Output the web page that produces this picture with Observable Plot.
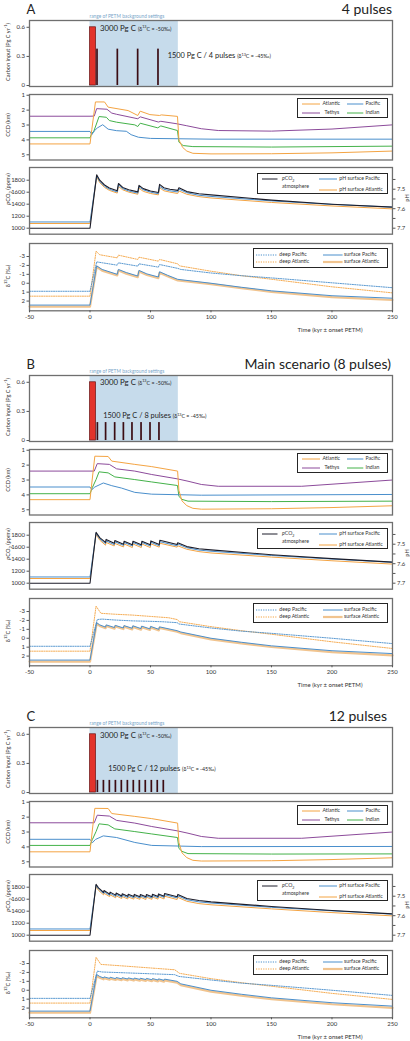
<!DOCTYPE html>
<html><head><meta charset="utf-8">
<script src="https://cdn.jsdelivr.net/npm/d3@7"></script>
<script src="https://cdn.jsdelivr.net/npm/@observablehq/plot@0.6"></script>
<style>
html,body{margin:0;padding:0;background:#fff;}
#page{position:relative;width:410px;height:1041px;overflow:hidden;font-family:Lato,"Open Sans",sans-serif;color:#333;}
#page div.t{position:absolute;white-space:nowrap;line-height:1;}
sup,sub{font-size:70%;line-height:0;}
</style></head>
<body><div id="page"></div>
<script>
// ---------------- DATA ----------------
const letters = ["A", "B", "C"];
const titles = ["4 pulses", "Main scenario (8 pulses)", "12 pulses"];
const pulseLabels = ["1500 Pg C / 4 pulses", "1500 Pg C / 8 pulses", "1500 Pg C / 12 pulses"];
const xTicks = [-50, 0, 50, 100, 150, 200, 250];
const carbonTicks = [0, 0.3, 0.6];
const ccdTicks = [1, 2, 3, 4, 5];
const co2Ticks = [1000, 1200, 1400, 1600, 1800];
const phTicks = [7.45, 7.5, 7.55, 7.6, 7.65, 7.7];
const phTickLabels = ["", "7.5", "", "7.6", "", "7.7"];
const d13Ticks = [-3, -2, -1, 0, 1, 2];

// carbon input
const bgRange = [0, 73];
const mainPulse = [0, 5];
const mainRate = 0.6;
const pulseDur = 1.4;
const pulseStartsA = [5.5, 22.3, 39.1, 55.9];
const pulseStartsB = [5.8, 12.6, 20.1, 27.3, 34.4, 41.9, 49.3, 56.7];
const pulseStartsC = [5.8, 10.8, 15.7, 20.7, 25.6, 30.6, 35.5, 40.5, 45.4, 50.4, 55.3, 60.3];
const pulseRates = [0.375, 0.185, 0.125];

// CCD (km)
const ccdA_atl = [[-50,4.27],[0,4.27],[1.5,3.3],[4.5,1.45],[12,1.45],[15,1.8],[31.5,2.03],[39.5,2.36],[41.5,2.07],[49.5,2.3],[57.5,2.36],[59,2.32],[72.3,2.42],[73.5,4.0],[76.5,4.5],[80,4.75],[85,4.9],[100,4.94],[150,4.93],[200,4.87],[250,4.75]];
const ccdA_teth = [[-50,2.41],[0,2.41],[3.5,2.4],[5.5,1.9],[14,1.94],[18,2.2],[22,2.28],[39.5,2.58],[41.5,2.45],[56.5,2.8],[58.5,2.75],[72,2.92],[80,3.05],[92,3.25],[106,3.37],[150,3.41],[200,3.27],[250,2.99]];
const ccdA_ind = [[-50,3.86],[0,3.86],[1.5,3.55],[3,3.45],[5,3.0],[7.5,2.43],[13.5,2.48],[16,2.7],[22,2.81],[37,2.99],[39.5,3.1],[41.5,2.88],[56,3.19],[58.5,3.06],[72.3,3.37],[73.5,4.15],[77,4.38],[85,4.45],[150,4.48],[250,4.42]];
const ccdA_pac = [[-50,3.43],[0,3.43],[1.5,3.65],[3.5,3.4],[6,3.2],[10.5,2.98],[15,3.28],[22,3.38],[30,3.42],[34,3.65],[40,3.82],[50,3.9],[100,3.95],[250,3.95]];

const ccdB_atl = [[-50,4.32],[0,4.32],[1.5,3.2],[4,1.4],[15,1.42],[18,1.73],[37,1.95],[51,2.1],[72.4,2.4],[73.5,3.7],[76,4.4],[80,4.72],[85,4.9],[92,4.96],[150,4.93],[200,4.85],[250,4.73]];
const ccdB_teth = [[-50,2.4],[0,2.4],[3.5,2.4],[6,1.9],[16,1.95],[22,2.25],[37,2.4],[51,2.63],[72,2.92],[81,3.08],[92,3.3],[106,3.42],[175,3.42],[250,3.0]];
const ccdB_ind = [[-50,3.92],[0,3.92],[2,3.5],[5,2.97],[7.5,2.45],[15,2.52],[20.5,2.79],[37,2.97],[51,3.13],[72.3,3.37],[73.5,4.1],[76,4.3],[81,4.42],[150,4.45],[250,4.42]];
const ccdB_pac = [[-50,3.47],[0,3.47],[1.5,3.65],[4,3.47],[11,3.2],[18,3.38],[26,3.54],[37,3.83],[51,3.95],[92,4.02],[250,3.97]];

const ccdC_atl = [[-50,4.33],[0,4.33],[1.5,3.2],[4,1.41],[15,1.42],[18,1.76],[37,1.95],[51,2.1],[72.4,2.4],[73.5,3.7],[76,4.4],[80,4.72],[85,4.9],[92,4.95],[150,4.93],[200,4.85],[250,4.73]];
const ccdC_teth = [[-50,2.38],[0,2.38],[3.5,2.38],[6,1.87],[16,1.93],[22,2.22],[37,2.4],[51,2.63],[72,2.92],[81,3.08],[92,3.3],[106,3.42],[175,3.42],[250,3.0]];
const ccdC_ind = [[-50,3.9],[0,3.9],[2,3.5],[5,2.97],[7.5,2.45],[15,2.52],[20.5,2.79],[37,2.97],[51,3.13],[72.3,3.37],[73.5,4.1],[76,4.3],[81,4.45],[150,4.48],[250,4.47]];
const ccdC_pac = [[-50,3.49],[0,3.49],[2,3.72],[4.5,3.5],[11,3.26],[22,3.37],[37,3.7],[51,3.9],[92,3.98],[250,3.97]];

// pCO2 (ppmv) and surface pH
const co2A = [[-50,1000],[0,1000],[5.5,1890],[8,1800],[12,1720],[16,1670],[22.5,1625],[23.5,1745],[27,1680],[32,1640],[39.5,1605],[40.5,1715],[44,1660],[50,1620],[56.5,1595],[57.5,1730],[61,1675],[66,1650],[72.5,1630],[73.5,1675],[80,1610],[90,1575],[100,1555],[150,1468],[200,1400],[250,1352]];
const phPacA = [[-50,7.668],[0,7.668],[5.5,7.431],[8,7.460],[12,7.485],[16,7.500],[22.5,7.514],[23.5,7.478],[27,7.497],[32,7.509],[39.5,7.520],[40.5,7.488],[44,7.503],[50,7.515],[56.5,7.523],[57.5,7.485],[61,7.500],[66,7.508],[72.5,7.514],[73.5,7.500],[80,7.518],[90,7.531],[100,7.537],[150,7.560],[200,7.578],[250,7.592]];
const phAtlA = [[-50,7.676],[0,7.676],[5.5,7.437],[8,7.466],[12,7.491],[16,7.506],[22.5,7.520],[23.5,7.486],[27,7.503],[32,7.515],[39.5,7.526],[40.5,7.495],[44,7.511],[50,7.522],[56.5,7.529],[57.5,7.492],[61,7.508],[66,7.515],[72.5,7.522],[73.5,7.509],[80,7.526],[90,7.538],[100,7.545],[150,7.568],[200,7.586],[250,7.601]];

const co2B = [[-50,1000],[0,1000],[5,1850],[8,1760],[12.8,1680],[13.3,1730],[20,1665],[20.5,1710],[27.7,1650],[28.2,1700],[35,1640],[35.5,1700],[42.4,1640],[42.9,1700],[49.8,1640],[50.3,1705],[57.2,1645],[57.7,1715],[72,1645],[72.5,1675],[80,1610],[90,1575],[100,1555],[150,1475],[200,1410],[250,1352]];
const phPacB = [[-50,7.668],[0,7.668],[5,7.443],[8,7.472],[12.8,7.497],[13.3,7.483],[20,7.502],[20.5,7.488],[27.7,7.506],[28.2,7.491],[35,7.509],[35.5,7.491],[42.4,7.509],[42.9,7.491],[49.8,7.509],[50.3,7.490],[57.2,7.508],[57.7,7.487],[72,7.508],[72.5,7.499],[80,7.518],[90,7.530],[100,7.536],[150,7.558],[200,7.576],[250,7.593]];
const phAtlB = [[-50,7.676],[0,7.676],[5,7.449],[8,7.479],[12.8,7.505],[13.3,7.491],[20,7.509],[20.5,7.496],[27.7,7.514],[28.2,7.499],[35,7.517],[35.5,7.499],[42.4,7.517],[42.9,7.499],[49.8,7.517],[50.3,7.498],[57.2,7.515],[57.7,7.495],[72,7.515],[72.5,7.508],[80,7.526],[90,7.538],[100,7.545],[150,7.566],[200,7.585],[250,7.602]];

const co2C = [[-50,1000],[0,1000],[5,1850],[7,1790],[11.2,1715],[11.6,1745],[16.2,1685],[16.6,1718],[21.2,1668],[21.6,1702],[26.2,1655],[26.6,1690],[31.2,1648],[31.6,1683],[36.2,1645],[36.6,1680],[41.2,1642],[41.6,1678],[46.2,1640],[46.6,1678],[51.2,1642],[51.6,1682],[56.2,1645],[56.6,1688],[61.2,1650],[61.6,1695],[72,1640],[72.6,1680],[80,1612],[90,1578],[100,1556],[150,1478],[200,1412],[250,1355]];
const phPacC = [[-50,7.668],[0,7.668],[5,7.443],[7,7.463],[11.2,7.486],[11.6,7.477],[16.2,7.495],[16.6,7.485],[21.2,7.501],[21.6,7.490],[26.2,7.505],[26.6,7.494],[31.2,7.507],[31.6,7.496],[36.2,7.508],[36.6,7.497],[41.2,7.509],[41.6,7.498],[46.2,7.509],[46.6,7.498],[51.2,7.509],[51.6,7.496],[56.2,7.508],[56.6,7.494],[61.2,7.506],[61.6,7.492],[72,7.509],[72.6,7.498],[80,7.518],[90,7.529],[100,7.535],[150,7.557],[200,7.575],[250,7.592]];
const phAtlC = [[-50,7.676],[0,7.676],[5,7.449],[7,7.470],[11.2,7.493],[11.6,7.485],[16.2,7.502],[16.6,7.493],[21.2,7.508],[21.6,7.498],[26.2,7.512],[26.6,7.502],[31.2,7.514],[31.6,7.504],[36.2,7.515],[36.6,7.505],[41.2,7.516],[41.6,7.505],[46.2,7.517],[46.6,7.505],[51.2,7.516],[51.6,7.504],[56.2,7.515],[56.6,7.502],[61.2,7.514],[61.6,7.500],[72,7.517],[72.6,7.506],[80,7.526],[90,7.538],[100,7.544],[150,7.565],[200,7.584],[250,7.601]];

// pH axis alignment with the pCO2 axis (two reading anchors)
const phAnchor = [7.7, 7.5];
const ppmAnchor = [1000, 1650];

// d13C (permil)
const d13A_deepPac = [[-50,0.9],[0,0.9],[5.5,-2.4],[10,-2.3],[22.5,-2.03],[23.5,-2.29],[39.5,-1.92],[40.5,-2.18],[56.5,-1.81],[57.5,-2.1],[72.5,-1.67],[75,-1.55],[100,-1.15],[125,-0.85],[150,-0.6],[200,-0.05],[250,0.5]];
const d13A_deepAtl = [[-50,1.45],[0,1.45],[5,-3.6],[8,-3.2],[22.5,-2.85],[23.5,-3.15],[39.5,-2.67],[40.5,-2.92],[56.5,-2.48],[57.5,-2.67],[72.5,-2.18],[74,-1.95],[100,-1.35],[125,-0.85],[150,-0.45],[200,0.4],[250,1.08]];
const d13A_surfPac = [[-50,2.45],[0,2.45],[5.5,-1.95],[10,-1.55],[22.5,-1.0],[23.5,-1.55],[30,-1.2],[39.5,-0.81],[40.5,-1.44],[47,-1.05],[56.5,-0.7],[57.5,-1.29],[64,-0.9],[72.5,-0.44],[100,0.0],[125,0.45],[150,0.85],[200,1.4],[250,1.68]];
const d13A_surfAtl = [[-50,2.62],[0,2.62],[5.5,-1.85],[10,-1.42],[22.5,-0.88],[23.5,-1.43],[30,-1.08],[39.5,-0.69],[40.5,-1.32],[47,-0.93],[56.5,-0.58],[57.5,-1.17],[64,-0.78],[72.5,-0.32],[100,0.1],[125,0.55],[150,0.97],[200,1.55],[250,1.88]];

const d13B_deepPac = [[-50,0.9],[0,0.9],[6,-2.1],[10,-2.15],[20,-2.05],[35,-1.95],[50,-1.9],[60,-1.85],[72,-1.75],[73.5,-1.6],[100,-1.15],[125,-0.8],[150,-0.55],[200,0.0],[250,0.6]];
const d13B_deepAtl = [[-50,1.45],[0,1.45],[5,-3.6],[9,-2.8],[20,-2.7],[35,-2.6],[50,-2.45],[65,-2.3],[72,-2.1],[74,-1.85],[100,-1.3],[125,-0.85],[150,-0.45],[200,0.4],[250,1.15]];
const d13B_surfPac = [[-50,2.45],[0,2.45],[5.5,-1.75],[8,-1.5],[12.9,-1.25],[13.4,-1.5],[20.3,-1.2],[20.8,-1.45],[27.6,-1.15],[28.1,-1.42],[34.9,-1.12],[35.4,-1.4],[42.2,-1.08],[42.7,-1.36],[49.6,-1.05],[50.1,-1.33],[56.9,-1.0],[57.4,-1.28],[72,-0.85],[75,-0.7],[100,0.0],[125,0.45],[150,0.85],[200,1.4],[250,1.72]];
const d13B_surfAtl = [[-50,2.62],[0,2.62],[5.5,-1.63],[8,-1.38],[12.9,-1.13],[13.4,-1.38],[20.3,-1.08],[20.8,-1.33],[27.6,-1.03],[28.1,-1.3],[34.9,-1.0],[35.4,-1.28],[42.2,-0.96],[42.7,-1.24],[49.6,-0.93],[50.1,-1.21],[56.9,-0.88],[57.4,-1.16],[72,-0.73],[75,-0.58],[100,0.12],[125,0.57],[150,0.98],[200,1.55],[250,1.93]];

const d13C_deepPac = [[-50,0.91],[0,0.91],[6,-2.14],[10,-2.05],[30,-1.95],[50,-1.85],[70,-1.75],[73.5,-1.55],[100,-1.15],[125,-0.8],[150,-0.55],[200,0.0],[250,0.58]];
const d13C_deepAtl = [[-50,1.44],[0,1.44],[5,-3.7],[9,-2.9],[25,-2.75],[40,-2.6],[55,-2.45],[70,-2.3],[74,-1.9],[100,-1.3],[125,-0.85],[150,-0.45],[200,0.35],[250,1.03]];
const d13C_surfPac = [[-50,2.34],[0,2.34],[5.5,-1.77],[8,-1.55],[11.2,-1.38],[11.6,-1.5],[16.2,-1.33],[16.6,-1.46],[21.2,-1.3],[21.6,-1.43],[26.2,-1.28],[26.6,-1.41],[31.2,-1.26],[31.6,-1.39],[36.2,-1.24],[36.6,-1.37],[41.2,-1.22],[41.6,-1.35],[46.2,-1.2],[46.6,-1.33],[51.2,-1.18],[51.6,-1.31],[56.2,-1.15],[56.6,-1.28],[61.2,-1.12],[61.6,-1.25],[72,-1.0],[75,-0.72],[100,0.0],[125,0.45],[150,0.85],[200,1.4],[250,1.78]];
const d13C_surfAtl = [[-50,2.52],[0,2.52],[5.5,-1.62],[8,-1.4],[11.2,-1.23],[11.6,-1.35],[16.2,-1.18],[16.6,-1.31],[21.2,-1.15],[21.6,-1.28],[26.2,-1.13],[26.6,-1.26],[31.2,-1.11],[31.6,-1.24],[36.2,-1.09],[36.6,-1.22],[41.2,-1.07],[41.6,-1.2],[46.2,-1.05],[46.6,-1.18],[51.2,-1.03],[51.6,-1.16],[56.2,-1.0],[56.6,-1.13],[61.2,-0.97],[61.6,-1.1],[72,-0.85],[75,-0.57],[100,0.15],[125,0.6],[150,1.0],[200,1.57],[250,1.98]];

// ---------------- DRAWING ----------------
const FONT = "Lato, 'Open Sans', sans-serif";
const COL = {atl:"#f4a443", pac:"#4a8fcc", teth:"#8c4b9b", ind:"#44b24a", co2:"#1d1d2a",
  surfAtl:"#f1c48f", bg:"#c6dbeb", red:"#e2332b", pulse:"#3b0c13", frame:"#6f6f6f", txt:"#333"};
const page = document.getElementById("page");
const OFFS = [0, 355, 707];
const pts = a => a.map(([t, v]) => ({t, v}));
const ph2ppm = d3.scaleLinear().domain(phAnchor).range(ppmAnchor);
const minusFmt = d => d < 0 ? "-" + Math.abs(d) : String(d);

function txt(html, x, y, o = {}) {
  const d = document.createElement("div");
  d.className = "t";
  d.innerHTML = html;
  const size = o.size || 6;
  const ax = o.anchor === "end" ? "-100%" : o.anchor === "middle" ? "-50%" : "0";
  let tr = `translate(${ax},-50%)`;
  if (o.rotate) tr = `translate(-50%,-50%) rotate(${o.rotate}deg)`;
  d.style.cssText = `left:${x}px;top:${y}px;font-size:${size}px;color:${o.color || COL.txt};transform:${tr};` + (o.css || "");
  page.appendChild(d);
}
// legend swatch lines drawn as small inline SVGs
function hline(x1, x2, y, color, w = 1, dash = null) {
  const ns = "http://www.w3.org/2000/svg";
  const s = document.createElementNS(ns, "svg");
  s.setAttribute("width", x2 - x1); s.setAttribute("height", 4);
  s.style.cssText = `position:absolute;left:${x1}px;top:${y - 2}px;overflow:visible;`;
  const l = document.createElementNS(ns, "line");
  l.setAttribute("x1", 0); l.setAttribute("x2", x2 - x1); l.setAttribute("y1", 2); l.setAttribute("y2", 2);
  l.setAttribute("stroke", color); l.setAttribute("stroke-width", w);
  if (dash) l.setAttribute("stroke-dasharray", dash);
  s.appendChild(l);
  page.appendChild(s);
}
function box(l, t, w, h) {
  const d = document.createElement("div");
  d.style.cssText = `position:absolute;left:${l}px;top:${t}px;width:${w}px;height:${h}px;box-sizing:border-box;border:1px solid #262626;background:#fff;`;
  page.appendChild(d);
}
const axisStyle = {tickSize: 2.5, tickPadding: 2, label: null, fontSize: 6, stroke: "#555"};

function addPlot(top, frameH, mb, y, marks, withX) {
  const mt = 2;
  const el = Plot.plot({
    width: 410, height: mt + frameH + mb,
    marginLeft: 29, marginRight: 18, marginTop: mt, marginBottom: mb,
    x: withX ? {domain: [-50, 250]} : {domain: [-50, 250], axis: null},
    y: {...y, axis: null},
    style: {fontFamily: FONT, fontSize: "6px", color: COL.txt, background: "transparent", overflow: "visible"},
    marks
  });
  el.style.position = "absolute";
  el.style.left = "0px";
  el.style.top = (top - mt) + "px";
  page.appendChild(el);
}

const blocks = [
  {pulses: pulseStartsA, rate: pulseRates[0], ccd: [ccdA_atl, ccdA_pac, ccdA_teth, ccdA_ind], co2: co2A, phP: phPacA, phA: phAtlA,
   d13: [d13A_deepPac, d13A_deepAtl, d13A_surfPac, d13A_surfAtl], titleX: 392, lblC: [167.7, 55.7], lbl3000y: 29.3},
  {pulses: pulseStartsB, rate: pulseRates[1], ccd: [ccdB_atl, ccdB_pac, ccdB_teth, ccdB_ind], co2: co2B, phP: phPacB, phA: phAtlB,
   d13: [d13B_deepPac, d13B_deepAtl, d13B_surfPac, d13B_surfAtl], titleX: 391, lblC: [103.3, 61], lbl3000y: 27.5},
  {pulses: pulseStartsC, rate: pulseRates[2], ccd: [ccdC_atl, ccdC_pac, ccdC_teth, ccdC_ind], co2: co2C, phP: phPacC, phA: phAtlC,
   d13: [d13C_deepPac, d13C_deepAtl, d13C_surfPac, d13C_surfAtl], titleX: 387, lblC: [108.3, 62.3], lbl3000y: 29}
];

blocks.forEach((b, i) => {
  const o = OFFS[i];
  const frame = Plot.frame({stroke: COL.frame, strokeWidth: 1.3});

  // Carbon input
  addPlot(o + 20, 66, 2, {domain: [-0.01, 0.67]}, [
    Plot.rect([bgRange], {x1: d => d[0], x2: d => d[1], fill: COL.bg}),
    Plot.rectY([{t0: mainPulse[0], t1: mainPulse[1], r: mainRate}], {x1: "t0", x2: "t1", y: "r", fill: COL.red, stroke: "#6a1515", strokeWidth: 0.7}),
    Plot.rectY(b.pulses.map(t => ({t0: t, t1: t + pulseDur, r: b.rate})), {x1: "t0", x2: "t1", y: "r", fill: COL.pulse}),
    frame,
    Plot.axisY(carbonTicks, {...axisStyle, anchor: "left", tickFormat: d => d === 0 ? "0" : String(d)})
  ]);

  // CCD
  const [atl, pac, teth, ind] = b.ccd;
  addPlot(o + 94, 65.5, 2, {domain: [0.95, 5.35], reverse: true}, [
    Plot.line(pts(ind), {x: "t", y: "v", stroke: COL.ind, strokeWidth: 1}),
    Plot.line(pts(pac), {x: "t", y: "v", stroke: COL.pac, strokeWidth: 1}),
    Plot.line(pts(teth), {x: "t", y: "v", stroke: COL.teth, strokeWidth: 1}),
    Plot.line(pts(atl), {x: "t", y: "v", stroke: COL.atl, strokeWidth: 1}),
    frame,
    Plot.axisY(ccdTicks, {...axisStyle, anchor: "left", tickFormat: d => String(d)})
  ]);

  // pCO2 + pH
  addPlot(o + 167.3, 66.7, 2, {domain: [900, 2012]}, [
    Plot.line(pts(b.phA), {x: "t", y: d => ph2ppm(d.v), stroke: COL.atl, strokeWidth: 1}),
    Plot.line(pts(b.phP), {x: "t", y: d => ph2ppm(d.v), stroke: COL.pac, strokeWidth: 1}),
    Plot.line(pts(b.co2), {x: "t", y: "v", stroke: COL.co2, strokeWidth: 1.1}),
    frame,
    Plot.axisY(co2Ticks, {...axisStyle, anchor: "left", tickFormat: d => String(d)}),
    Plot.axisY(phTicks.map(p => ph2ppm(p)), {...axisStyle, anchor: "right", tickFormat: (d, k) => phTickLabels[k]})
  ]);

  // d13C
  const [dP, dA, sP, sA] = b.d13;
  addPlot(o + 242.7, 67.3, 12, {domain: [-4.46, 3.09], reverse: true}, [
    Plot.line(pts(sA), {x: "t", y: "v", stroke: COL.surfAtl, strokeWidth: 2.2}),
    Plot.line(pts(sP), {x: "t", y: "v", stroke: COL.pac, strokeWidth: 1}),
    Plot.line(pts(dA), {x: "t", y: "v", stroke: COL.atl, strokeWidth: 0.9, strokeDasharray: "1.2,1.2"}),
    Plot.line(pts(dP), {x: "t", y: "v", stroke: COL.pac, strokeWidth: 0.9, strokeDasharray: "1.2,1.2"}),
    frame,
    Plot.axisY(d13Ticks, {...axisStyle, anchor: "left", tickFormat: minusFmt}),
    Plot.axisX(xTicks, {...axisStyle, anchor: "bottom", tickSize: 2, tickPadding: 1.5, tickFormat: minusFmt})
  ], true);

  // ---- texts ----
  txt(letters[i], 26.5, o + 8.5, {size: 13, color: "#222"});
  txt(titles[i], b.titleX, o + 8.5, {size: 14, anchor: "end", color: "#222"});
  txt("range of PETM background settings", 89.5, o + 16, {size: 4.8, color: "#7aa6c9"});
  txt(`3000 Pg C <span style="font-size:5.3px">(δ<sup>13</sup>C = -50‰)</span>`, 100, o + b.lbl3000y, {size: 7.8, color: "#222"});
  txt(`${pulseLabels[i]} <span style="font-size:5.3px">(δ<sup>13</sup>C = -45‰)</span>`, b.lblC[0], o + b.lblC[1], {size: 7.4, color: "#222"});

  // axis titles
  txt(`Carbon input (Pg C yr<sup>-1</sup>)`, 7.5, o + 52, {size: 5.6, rotate: -90});
  txt(`CCD (km)`, 7.5, o + 125, {size: 5.6, rotate: -90});
  txt(`<i>p</i>CO<sub>2</sub> (ppmv)`, 7.5, o + 189, {size: 5.6, rotate: -90});
  txt(`δ<sup>13</sup>C (‰)`, 7.5, o + 276, {size: 5.6, rotate: -90});
  txt(`pH`, 406.5, o + 198, {size: 5.6, rotate: -90});
  txt(`Time (kyr ± onset PETM)`, 362.5, o + 330, {size: 6, anchor: "end"});

  // legends
  box(296.7, o + 98.3, 91, 20);
  hline(302, 320, o + 104.3, COL.atl); txt("Atlantic", 322.5, o + 104.3, {size: 5.2});
  hline(346.7, 363, o + 104.3, COL.pac); txt("Pacific", 365.5, o + 104.3, {size: 5.2});
  hline(302, 320, o + 112.7, COL.teth); txt("Tethys", 324.5, o + 112.7, {size: 5.2});
  hline(346.7, 363, o + 112.7, COL.ind); txt("Indian", 365.5, o + 112.7, {size: 5.2});

  box(257, o + 173.3, 130.7, 20.5);
  hline(261.5, 277, o + 179.2, COL.co2); txt(`<i>p</i>CO<sub>2</sub>`, 282, o + 179.2, {size: 5.2});
  txt("atmosphere", 282, o + 186.5, {size: 5.2});
  hline(319, 337, o + 179.2, COL.pac); txt("pH surface Pacific", 339.3, o + 179.2, {size: 5.2});
  hline(319, 337, o + 189.5, COL.atl); txt("pH surface Atlantic", 339.3, o + 189.5, {size: 5.2});

  box(253.3, o + 248.3, 134.4, 20);
  hline(255.5, 276.7, o + 254.7, COL.pac, 1, "1.2,1.2"); txt("deep Pacific", 279.3, o + 254.7, {size: 5.2});
  hline(255.5, 276.7, o + 262.3, COL.atl, 1, "1.2,1.2"); txt("deep Atlantic", 279.3, o + 262.3, {size: 5.2});
  hline(322.7, 342.3, o + 254.7, COL.pac); txt("surface Pacific", 344, o + 254.7, {size: 5.2});
  hline(322.7, 342.3, o + 262.3, COL.surfAtl, 2.2); txt("surface Atlantic", 344, o + 262.3, {size: 5.2});
});
</script>
</body></html>
